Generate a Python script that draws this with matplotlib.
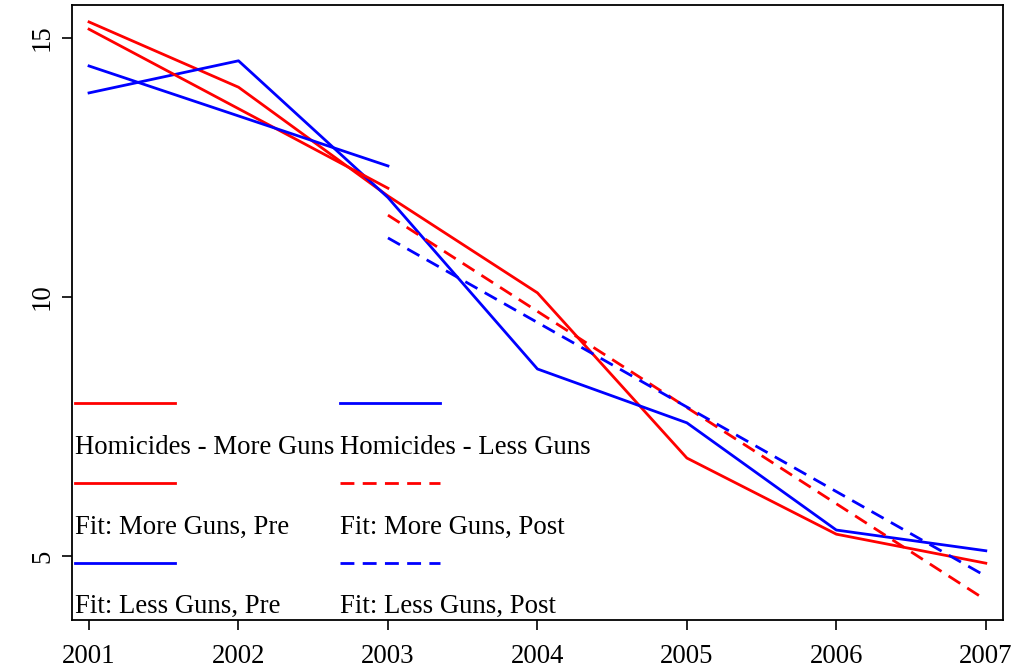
import numpy as np
import matplotlib
matplotlib.use("Agg")
import matplotlib.pyplot as plt

plt.rcParams['font.family'] = ['Liberation Serif', 'DejaVu Serif']

# data
years = [2001, 2002, 2003, 2004, 2005, 2006, 2007]
hom_more = [15.31, 14.05, 11.95, 10.08, 6.89, 5.42, 4.86]
hom_less = [13.94, 14.56, 11.92, 8.61, 7.57, 5.50, 5.10]

pre_years = [2001, 2003]
fit_more_pre = [15.17, 12.10]
fit_less_pre = [14.46, 12.53]

post_years = [2003, 2007]
fit_more_post = [11.58, 4.15]
fit_less_post = [11.14, 4.61]

labels = ["Homicides - More Guns", "Homicides - Less Guns",
          "Fit: More Guns, Pre", "Fit: More Guns, Post",
          "Fit: Less Guns, Pre", "Fit: Less Guns, Post"]
colors = ["red", "blue", "red", "red", "blue", "blue"]
styles = ["-", "-", "-", "--", "-", "--"]

lw = 2.0
dash = (5.0, 3.0)
fs = 19.3

fig = plt.figure(figsize=(10.14, 6.68), dpi=100)
ax = fig.add_axes([0.071, 0.072, 0.918, 0.9205])

ax.plot(years, hom_more, color="red", lw=lw)
ax.plot(years, hom_less, color="blue", lw=lw)
ax.plot(pre_years, fit_more_pre, color="red", lw=lw)
ax.plot(post_years, fit_more_post, color="red", lw=lw, dashes=dash)
ax.plot(pre_years, fit_less_pre, color="blue", lw=lw)
ax.plot(post_years, fit_less_post, color="blue", lw=lw, dashes=dash)

ax.set_xlim(2000.886, 2007.114)
ax.set_ylim(3.765, 15.637)
ax.set_xticks(years)
ax.set_xticklabels([str(y) for y in years])
ax.set_yticks([5, 10, 15])
ax.set_yticklabels(["5", "10", "15"], rotation=90, va="center")
ax.tick_params(direction="out", length=7.2, width=1.2, labelsize=fs)
ax.tick_params(axis="x", pad=10)
ax.tick_params(axis="y", pad=5)
for s in ax.spines.values():
    s.set_linewidth(1.3)

# R style legend: line above its label, two columns
W, H = 931.0, 615.0
col_x = [(75 - 72) / W, (340 - 72) / W]
hl = 100 / W
rows_line = [403, 483, 563]
rows_text = [448, 527, 607]
for i, lab in enumerate(labels):
    c, r = i % 2, i // 2
    yl = 1 - (rows_line[r] - 5) / H
    yt = 1 - (rows_text[r] - 5) / H
    kw = dict(color=colors[i], lw=lw, transform=ax.transAxes, clip_on=False)
    if styles[i] == "--":
        kw["dashes"] = dash
    ax.plot([col_x[c], col_x[c] + hl], [yl, yl], **kw)
    ax.text(col_x[c], yt, lab, transform=ax.transAxes, fontsize=fs,
            va="center", ha="left")

fig.savefig("out.png", dpi=100)
